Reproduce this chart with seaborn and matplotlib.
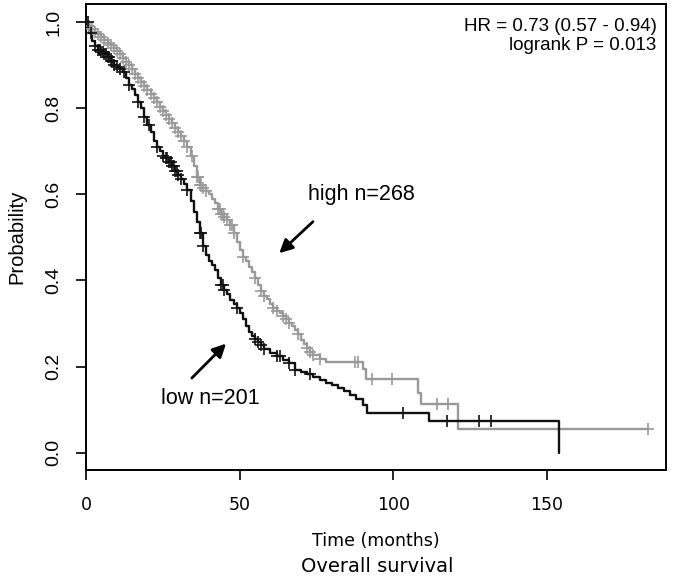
import numpy as np
import matplotlib
matplotlib.use("Agg")
import matplotlib.pyplot as plt
import seaborn as sns

# Curve di sopravvivenza (Kaplan-Meier): tempo in mesi, probabilita'
low_times = [0, 1, 2, 3, 4, 5, 6, 7, 8, 9, 10, 11, 12, 13, 14, 15, 16, 17, 18, 19,
             20, 21, 22, 23, 24, 25, 26, 27, 28, 29, 30, 31, 32, 33, 34, 35, 36, 37, 38, 39,
             40, 41, 42, 43, 44, 45, 46, 47, 48, 49, 50, 51, 52, 53, 54, 55, 56, 57, 58, 60,
             62, 64, 66, 68, 70, 72, 74, 76, 78, 80, 82, 84, 86, 88, 90, 91.5, 111.5, 154]
low_surv = [1.0, 0.975, 0.955, 0.945, 0.935, 0.93, 0.925, 0.92, 0.91, 0.90, 0.895, 0.89,
            0.885, 0.87, 0.855, 0.845, 0.83, 0.815, 0.80, 0.78, 0.76, 0.745, 0.725, 0.71,
            0.70, 0.69, 0.684, 0.675, 0.665, 0.655, 0.645, 0.635, 0.625, 0.61, 0.585, 0.56,
            0.535, 0.51, 0.48, 0.46, 0.445, 0.435, 0.425, 0.405, 0.39, 0.378, 0.368, 0.355,
            0.345, 0.335, 0.325, 0.31, 0.295, 0.28, 0.272, 0.265, 0.258, 0.25, 0.24, 0.232,
            0.225, 0.216, 0.208, 0.193, 0.188, 0.182, 0.175, 0.168, 0.162, 0.157, 0.15, 0.144,
            0.135, 0.125, 0.112, 0.093, 0.074, 0.0]

high_times = [0, 1, 2, 3, 4, 5, 6, 7, 8, 9, 10, 11, 12, 13, 14, 15, 16, 17, 18, 19,
              20, 21, 22, 23, 24, 25, 26, 27, 28, 29, 30, 31, 32, 33, 34, 35, 36, 37, 38, 39,
              40, 41, 42, 43, 44, 45, 46, 47, 48, 49, 50, 51, 52, 53, 54, 55, 56, 57, 58, 59,
              60, 61, 62, 63, 64, 65, 66, 67, 68, 69, 70, 71, 72, 73, 74, 76, 78, 90, 91,
              108, 109, 121, 183]
high_surv = [1.0, 0.99, 0.985, 0.978, 0.972, 0.965, 0.958, 0.952, 0.947, 0.94, 0.932, 0.925,
             0.917, 0.908, 0.9, 0.89, 0.88, 0.87, 0.862, 0.852, 0.842, 0.832, 0.823, 0.814,
             0.804, 0.794, 0.784, 0.775, 0.765, 0.755, 0.745, 0.736, 0.725, 0.71, 0.69, 0.665,
             0.64, 0.622, 0.615, 0.608, 0.6, 0.59, 0.58, 0.566, 0.555, 0.548, 0.54, 0.528,
             0.51, 0.49, 0.47, 0.455, 0.445, 0.432, 0.42, 0.405, 0.39, 0.376, 0.365, 0.358,
             0.345, 0.337, 0.33, 0.324, 0.318, 0.31, 0.302, 0.294, 0.285, 0.275, 0.262, 0.252,
             0.244, 0.235, 0.228, 0.218, 0.21, 0.195, 0.172, 0.139, 0.114, 0.056, 0.056]

# tempi dei pazienti censurati (segni +)
low_censor = [0.5, 1.5, 3, 4, 4.5, 5, 5.5, 6, 6.5, 7, 7.5, 8, 8.5, 9, 10, 11, 12.5, 14, 17,
              19, 20.5, 23, 25, 26, 26.5, 27, 27.5, 28, 28.5, 29, 29.5, 30, 31, 33, 37, 37.5,
              38, 44, 44.5, 45, 49, 55, 56, 57, 58, 62, 63, 66, 68, 73, 103, 117.6, 127.7, 131.9]
high_censor = [0.5, 1, 2, 3, 4, 5, 6, 7, 8, 9, 10, 11, 12, 13, 14, 15, 16, 17, 18, 19, 20, 21,
               22, 23, 24, 25, 26, 27, 28, 29, 30, 31, 32, 33, 34.5, 36, 36.5, 37, 37.5, 38,
               39, 43, 43.5, 44, 44.5, 45, 46, 47, 47.5, 48, 51, 55, 57, 58, 61, 62, 64, 65,
               66, 69, 72, 73, 74, 76, 87.6, 88.6, 93.2, 99.7, 114.3, 117.9, 183]

x_ticks = [0, 50, 100, 150]
y_ticks = [0.0, 0.2, 0.4, 0.6, 0.8, 1.0]

LOW_COLOR = "#111111"
HIGH_COLOR = "#999999"

sns.set_style("ticks")
plt.rcParams['font.family'] = ['Liberation Sans', 'DejaVu Sans']
plt.rcParams['text.color'] = 'black'
plt.rcParams['axes.labelcolor'] = 'black'
plt.rcParams['xtick.color'] = 'black'
plt.rcParams['ytick.color'] = 'black'

fig = plt.figure(figsize=(6.75, 5.78), dpi=100)
ax = fig.add_axes([86 / 675, 108 / 578, 580 / 675, 466 / 578])


def surv_at(times, surv, t):
    idx = np.searchsorted(times, t, side='right') - 1
    return np.asarray(surv)[idx]


# curve a gradini
sns.lineplot(x=high_times, y=high_surv, ax=ax, color=HIGH_COLOR, lw=1.7,
             drawstyle='steps-post', estimator=None, sort=False)
sns.lineplot(x=low_times, y=low_surv, ax=ax, color=LOW_COLOR, lw=1.7,
             drawstyle='steps-post', estimator=None, sort=False)

# segni di censura
sns.scatterplot(x=high_censor, y=surv_at(high_times, high_surv, high_censor), ax=ax,
                marker='+', s=85, color=HIGH_COLOR, linewidth=1.2, zorder=3)
sns.scatterplot(x=low_censor, y=surv_at(low_times, low_surv, low_censor), ax=ax,
                marker='+', s=85, color=LOW_COLOR, linewidth=1.2, zorder=4)

ax.set_xlim(0, 188.7)
ax.set_ylim(-0.04, 1.042)
ax.set_xticks(x_ticks)
ax.set_yticks(y_ticks)
ax.set_xticklabels([str(v) for v in x_ticks], family='DejaVu Sans', fontsize=12.5)
ax.set_yticklabels([f"{v:.1f}" for v in y_ticks], rotation=90, va='center', fontsize=14)
ax.tick_params(axis='x', length=7, width=1.2, pad=12)
ax.tick_params(axis='y', length=7, width=1.2, pad=10)
for s in ax.spines.values():
    s.set_visible(True)
    s.set_linewidth(1.4)
    s.set_color('black')

ax.set_ylabel("Probability", fontsize=14.5, labelpad=14)
ax.set_xlabel("Time (months)", family='DejaVu Sans', fontsize=12.5, labelpad=13)
fig.text(377 / 675, 1 - 567 / 578, "Overall survival", family='DejaVu Sans',
         fontsize=14, ha='center', va='center')

# statistiche (in alto a destra)
ax.text(0.984, 1 - 27 / 466, "HR = 0.73 (0.57 - 0.94)", transform=ax.transAxes,
        ha='right', va='baseline', fontsize=13.5)
ax.text(0.984, 1 - 46 / 466, "logrank P = 0.013", transform=ax.transAxes,
        ha='right', va='baseline', fontsize=13.5)

# etichette dei gruppi con frecce
ax.annotate("", xy=(62.2, 0.459), xytext=(74.5, 0.541),
            arrowprops=dict(arrowstyle='-|>', color='black', lw=2, mutation_scale=20))
ax.text(89.5, 0.599, "high n=268", ha='center', va='center', fontsize=15.5)
ax.annotate("", xy=(46.2, 0.258), xytext=(33.8, 0.169),
            arrowprops=dict(arrowstyle='-|>', color='black', lw=2, mutation_scale=20))
ax.text(40.4, 0.125, "low n=201", ha='center', va='center', fontsize=15.5)

fig.savefig("out.png", dpi=100)
